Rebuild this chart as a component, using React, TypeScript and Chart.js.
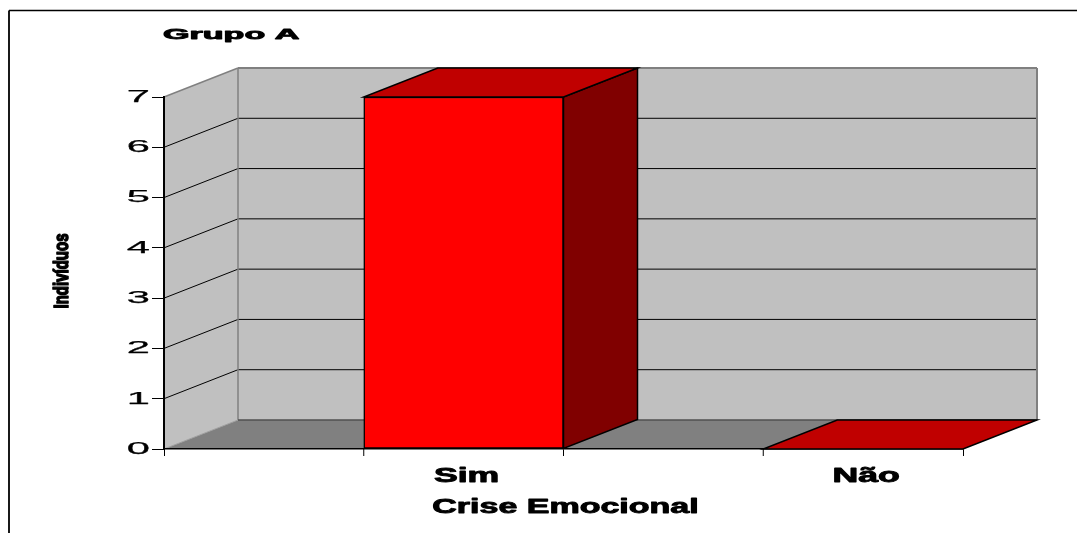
import React, { useEffect, useRef } from 'react';
import { Chart, registerables } from 'chart.js';

Chart.register(...registerables);

// ---- data ----
const chartTitle = 'Grupo A';
const categories = ['Sim', 'Não'];
const individuos = [7, 0];
const yMin = 0;
const yMax = 7;
const yStep = 1;
const xAxisTitle = 'Crise Emocional';
const yAxisTitle = 'Indivíduos';

// ---- style ----
const DEPTH_X = 74;
const DEPTH_Y = -29;
const FONT = '"Liberation Sans", Arial, sans-serif';
const WALL = '#C0C0C0';
const FLOOR = '#808080';
const EDGE = '#808080';
const BAR_FRONT = '#FF0000';
const BAR_TOP = '#C00000';
const BAR_SIDE = '#800000';

function poly(ctx: CanvasRenderingContext2D, pts: number[][], fill?: string, stroke?: string, lw = 1) {
  ctx.beginPath();
  pts.forEach((p, i) => (i === 0 ? ctx.moveTo(p[0], p[1]) : ctx.lineTo(p[0], p[1])));
  ctx.closePath();
  if (fill) {
    ctx.fillStyle = fill;
    ctx.fill();
  }
  if (stroke) {
    ctx.strokeStyle = stroke;
    ctx.lineWidth = lw;
    ctx.stroke();
  }
}

function line(ctx: CanvasRenderingContext2D, x1: number, y1: number, x2: number, y2: number, color: string, lw = 1) {
  ctx.beginPath();
  ctx.moveTo(x1, y1);
  ctx.lineTo(x2, y2);
  ctx.strokeStyle = color;
  ctx.lineWidth = lw;
  ctx.stroke();
}

function stretchedText(
  ctx: CanvasRenderingContext2D,
  text: string,
  x: number,
  y: number,
  font: string,
  sx: number,
  align: CanvasTextAlign,
  baseline: CanvasTextBaseline,
  heavy = 0,
  rotate = 0,
  sy = 1
) {
  ctx.save();
  ctx.translate(x, y);
  if (rotate) ctx.rotate(rotate);
  ctx.scale(sx, sy);
  ctx.font = font;
  ctx.fillStyle = '#000';
  ctx.textAlign = align;
  ctx.textBaseline = baseline;
  ctx.fillText(text, 0, 0);
  if (heavy > 0) {
    ctx.lineWidth = heavy;
    ctx.strokeStyle = '#000';
    ctx.lineJoin = 'round';
    ctx.strokeText(text, 0, 0);
  }
  ctx.restore();
}

const excel3d = {
  id: 'excel3d',
  beforeDraw(chart: any) {
    const { ctx, chartArea: ca, scales } = chart;
    const ys = scales.y;
    ctx.save();
    ctx.fillStyle = '#fff';
    ctx.fillRect(0, 0, chart.width, chart.height);

    // outer frame (top & left visible)
    line(ctx, 9, 10.5, chart.width, 10.5, '#000', 1.5);
    line(ctx, 9, 10.5, 9, chart.height, '#000', 1.8);

    const L = ca.left, R = ca.right, T = ca.top, B = ca.bottom;
    const dx = DEPTH_X, dy = DEPTH_Y;

    // side wall
    poly(ctx, [[L, T], [L + dx, T + dy], [L + dx, B + dy], [L, B]], WALL);
    // back wall
    poly(ctx, [[L + dx, T + dy], [R + dx, T + dy], [R + dx, B + dy], [L + dx, B + dy]], WALL);

    // grid lines
    ys.ticks.forEach((t: any) => {
      if (t.value === ys.max || t.value === ys.min) return;
      const py = ys.getPixelForValue(t.value);
      line(ctx, L, py, L + dx, py + dy, '#000', 1);
      line(ctx, L + dx, py + dy, R + dx, py + dy, '#000', 1);
    });

    // floor
    poly(ctx, [[L, B], [R, B], [R + dx, B + dy], [L + dx, B + dy]], FLOOR);

    // wall edges
    line(ctx, L, T, L + dx, T + dy, EDGE, 1.5);
    line(ctx, L + dx, T + dy, R + dx, T + dy, EDGE, 2);
    line(ctx, R + dx, T + dy, R + dx, B + dy, EDGE, 2);
    line(ctx, L + dx, T + dy, L + dx, B + dy, EDGE, 1.5);
    line(ctx, L + dx, B + dy, R + dx, B + dy, '#505050', 1.5);
    line(ctx, L, B, L + dx, B + dy, '#a0a0a0', 1);
    ctx.restore();
  },
  afterDatasetsDraw(chart: any) {
    const { ctx } = chart;
    const meta = chart.getDatasetMeta(1);
    const dx = DEPTH_X, dy = DEPTH_Y;
    ctx.save();
    ctx.lineJoin = 'miter';
    meta.data.forEach((bar: any) => {
      const { x, y, base, width } = bar.getProps(['x', 'y', 'base', 'width'], true);
      const left = x - width / 2;
      const right = x + width / 2;
      if (base - y > 0.5) {
        poly(ctx, [[right, y], [right + dx, y + dy], [right + dx, base + dy], [right, base]], BAR_SIDE, '#000', 1.5);
      }
      poly(ctx, [[left, y], [right, y], [right + dx, y + dy], [left + dx, y + dy]], BAR_TOP, '#000', 1.5);
    });
    ctx.restore();
  },
  afterDraw(chart: any) {
    const { ctx, chartArea: ca, scales } = chart;
    const ys = scales.y;
    const xs = scales.x;
    ctx.save();

    // extra category tick marks at category centres
    xs.ticks.forEach((_t: any, i: number) => {
      const px = xs.getPixelForValue(i);
      line(ctx, px, ca.bottom, px, ca.bottom + xs.options.grid.tickLength, '#000', 1);
    });

    // title
    stretchedText(ctx, chartTitle, 163, 38.5, `bold 15.5px ${FONT}`, 2.2, 'left', 'alphabetic', 0.9);

    // y tick labels
    const tl = ys.options.grid.tickLength;
    ys.ticks.forEach((t: any) => {
      const py = ys.getPixelForValue(t.value);
      stretchedText(ctx, String(t.label), ys.right - tl - 2, py + 0.5, `16px ${FONT}`, 2.6, 'right', 'middle', 0.25);
    });

    // x labels (under the bars)
    const meta = chart.getDatasetMeta(1);
    meta.data.forEach((bar: any, i: number) => {
      stretchedText(ctx, String(xs.getLabelForValue(i)), bar.x + 3, xs.top + 33, `bold 20px ${FONT}`, 1.78, 'center', 'alphabetic', 0.9);
    });

    // x axis title
    stretchedText(ctx, xAxisTitle, (ca.left + ca.right) / 2 + 2, xs.top + 64, `bold 20px ${FONT}`, 1.7, 'center', 'alphabetic', 0.9);

    // y axis title
    stretchedText(ctx, yAxisTitle, 62, (ca.top + ca.bottom) / 2 - 2, `bold 15px ${FONT}`, 1, 'center', 'middle', 1.2, -Math.PI / 2, 1.35);

    ctx.restore();
  },
};

export default function App() {
  const ref = useRef<HTMLCanvasElement>(null);

  useEffect(() => {
    if (!ref.current) return;
    const chart = new Chart(ref.current, {
      type: 'bar',
      data: {
        labels: categories,
        datasets: [
          {
            label: '',
            data: categories.map(() => null),
            backgroundColor: 'transparent',
          },
          {
            label: yAxisTitle,
            data: individuos,
            backgroundColor: BAR_FRONT,
            borderColor: '#000',
            borderWidth: 1.5,
            borderSkipped: false,
          },
        ],
      } as any,
      options: {
        animation: false,
        responsive: false,
        devicePixelRatio: 1,
        events: [],
        layout: { padding: { left: 0, right: 114, top: 97, bottom: 0 } },
        datasets: {
          bar: { categoryPercentage: 1, barPercentage: 1 },
        },
        plugins: {
          legend: { display: false },
          title: { display: false },
          tooltip: { enabled: false },
        },
        scales: {
          x: {
            type: 'category',
            offset: true,
            grid: {
              display: true,
              offset: true,
              drawOnChartArea: false,
              drawTicks: true,
              tickLength: 7,
              color: '#000',
              lineWidth: 1,
            },
            border: { display: true, color: '#000', width: 1.5 },
            ticks: { display: false },
            afterFit: (s: any) => {
              s.height = 84;
            },
          },
          y: {
            type: 'linear',
            min: yMin,
            max: yMax,
            ticks: { display: false, stepSize: yStep },
            grid: {
              display: true,
              drawOnChartArea: false,
              drawTicks: true,
              tickLength: 12,
              color: '#000',
              lineWidth: 1,
            },
            border: { display: true, color: '#000', width: 2 },
            afterFit: (s: any) => {
              s.width = 164;
            },
          },
        },
      } as any,
      plugins: [excel3d as any],
    });
    return () => chart.destroy();
  }, []);

  return (
    <div style={{ position: 'fixed', left: 0, top: 0, width: 1077, height: 533, background: '#fff' }}>
      <canvas ref={ref} width={1077} height={533} style={{ display: 'block', width: 1077, height: 533 }} />
    </div>
  );
}
